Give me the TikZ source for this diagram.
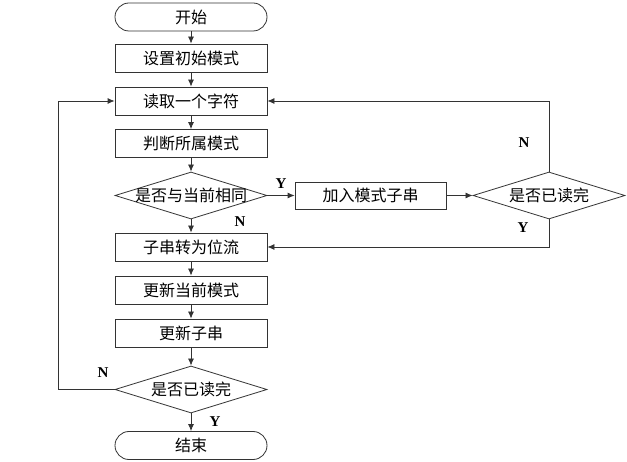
\documentclass[tikz,border=0pt]{standalone}
\usepackage{fontspec}
\usepackage{tikz}
\usetikzlibrary{arrows.meta,shapes.geometric}
\newfontfamily\cjk{Noto Sans CJK SC}
\newfontfamily\yn{Liberation Serif}

\tikzset{
  box/.style={rectangle,draw,minimum width=152pt,minimum height=28pt,inner sep=0pt},
  term/.style={box,rounded corners=14pt},
  dia/.style={diamond,draw,minimum width=152pt,minimum height=47pt,inner sep=0pt},
  yes/.style={font=\yn\bfseries\fontsize{15}{15}\selectfont,draw=none}
}

\begin{document}
\begin{tikzpicture}[x=1pt,y=-1pt,line width=0.8pt,draw=black!80,
  font=\cjk\fontsize{16}{16}\selectfont,>={Latex[length=7pt,width=6pt]}]
          \useasboundingbox (0,0) rectangle (627,462);
          \node[term] (start) at (191,17) {开始};
          \node[box] (init) at (191,58) {设置初始模式};
          \node[box] (read) at (191,101) {读取一个字符};
          \node[box] (judge) at (191,143.5) {判断所属模式};
          \node[dia] (same) at (191,195.5) {\makebox[0pt]{是否与当前相同}};
          \node[box] (conv) at (191,247) {子串转为位流};
          \node[box] (updm) at (191,290) {更新当前模式};
          \node[box] (upds) at (191,333) {更新子串};
          \node[dia] (done) at (191,389.5) {\makebox[0pt]{是否已读完}};
          \node[term] (end) at (191,445.5) {结束};
          \node[box,minimum width=151pt,minimum height=27pt] (add) at (370.5,195.5) {加入模式子串};
          \node[dia] (chk) at (549,195.5) {\makebox[0pt]{是否已读完}};
          \coordinate (lt) at (58,101);
          \coordinate (lb) at (58,389.5);
          \coordinate (rt) at (549,101);
          \coordinate (rb) at (549,247);
          \draw[->] (start)--(init);
          \draw[->] (init)--(read);
          \draw[->] (read)--(judge);
          \draw[->] (judge)--(same);
          \draw[->] (same)--(conv);
          \draw[->] (conv)--(updm);
          \draw[->] (updm)--(upds);
          \draw[->] (upds)--(done);
          \draw[->] (done)--(end);
          \draw[->] (same)--(add);
          \draw[->] (add)--(chk);
          \draw[->] (chk.north)--(rt)--(read.east);
          \draw[->] (chk.south)--(rb)--(conv.east);
          \draw[->] (done.west)--(lb)--(lt)--(read.west);
          \node[yes] (y1) at (281,184) {Y};
          \node[yes] (n1) at (524,143) {N};
          \node[yes] (y2) at (523,228) {Y};
          \node[yes] (n2) at (240,222) {N};
          \node[yes] (n3) at (103,373) {N};
          \node[yes] (y3) at (215,422) {Y};
        \end{tikzpicture}
\end{document}
